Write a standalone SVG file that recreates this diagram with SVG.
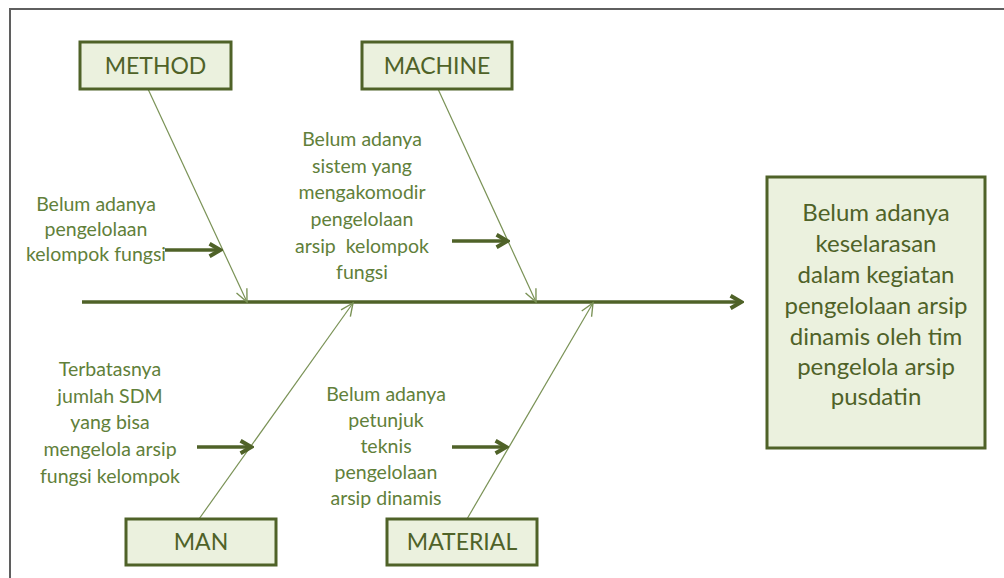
<svg xmlns="http://www.w3.org/2000/svg" width="1004" height="578" viewBox="0 0 1004 578">
<style>
.box{fill:#ebf1de;stroke:#4f6228;stroke-width:3}
.lbl{font-family:Lato,"Open Sans",sans-serif;font-size:23px;fill:#4f6228;text-anchor:middle}
.eff{font-family:Lato,"Open Sans",sans-serif;font-size:24px;fill:#4f6228;text-anchor:middle}
.cause{font-family:Lato,"Open Sans",sans-serif;font-size:19.5px;fill:#61803a;text-anchor:middle}
.bone{stroke:#7a9256;stroke-width:1.2;fill:none}
.arr{stroke:#4f6228;stroke-width:3.5;fill:none}
.frame{stroke:#5f5f5f;stroke-width:2;fill:none}
</style>
<defs>
<marker id="vthin" markerUnits="userSpaceOnUse" markerWidth="16" markerHeight="16" refX="12" refY="6" orient="auto" viewBox="0 0 14 12">
<path d="M1,1 L12,6 L1,11" fill="none" stroke="#7a9256" stroke-width="1.2"/>
</marker>
<marker id="vthick" markerUnits="userSpaceOnUse" markerWidth="16" markerHeight="16" refX="12" refY="7" orient="auto" viewBox="0 0 14 14">
<path d="M2,1.5 L11.5,7 L2,12.5" fill="none" stroke="#4f6228" stroke-width="3.5" stroke-linejoin="miter"/>
</marker>
</defs>
<rect width="1004" height="578" fill="#ffffff"/>
<path class="frame" d="M10,578 L10,9 L1004,9"/>
<g id="connectors">
<line class="arr" x1="82" y1="302" x2="742" y2="302" marker-end="url(#vthick)"/>
<line class="bone" x1="148" y1="89" x2="247" y2="302" marker-end="url(#vthin)"/>
<line class="bone" x1="438" y1="89" x2="536" y2="302" marker-end="url(#vthin)"/>
<line class="bone" x1="199" y1="519" x2="353" y2="303" marker-end="url(#vthin)"/>
<line class="bone" x1="467" y1="519" x2="593" y2="303" marker-end="url(#vthin)"/>
<line class="arr" x1="165" y1="250" x2="221" y2="250" marker-end="url(#vthick)"/>
<line class="arr" x1="452" y1="241" x2="508" y2="241" marker-end="url(#vthick)"/>
<line class="arr" x1="197" y1="447" x2="252" y2="447" marker-end="url(#vthick)"/>
<line class="arr" x1="452" y1="447" x2="507" y2="447" marker-end="url(#vthick)"/>
</g>
<g id="method">
<rect class="box" x="80" y="42" width="151" height="47"/>
<text class="lbl" x="155.5" y="74">METHOD</text>
</g>
<g id="machine">
<rect class="box" x="362" y="42" width="150" height="47"/>
<text class="lbl" x="437" y="74">MACHINE</text>
</g>
<g id="man">
<rect class="box" x="126" y="519" width="150" height="46"/>
<text class="lbl" x="201" y="550">MAN</text>
</g>
<g id="material">
<rect class="box" x="387" y="519" width="150" height="46"/>
<text class="lbl" x="462" y="550">MATERIAL</text>
</g>
<g id="effect">
<rect class="box" x="767" y="177" width="218" height="271"/>
<text class="eff" x="876" y="221">Belum adanya</text>
<text class="eff" x="876" y="252">keselarasan</text>
<text class="eff" x="876" y="283">dalam kegiatan</text>
<text class="eff" x="876" y="314">pengelolaan arsip</text>
<text class="eff" x="876" y="345">dinamis oleh tim</text>
<text class="eff" x="876" y="375">pengelola arsip</text>
<text class="eff" x="876" y="405">pusdatin</text>
</g>
<g id="cause-method">
<text class="cause" x="96" y="211">Belum adanya</text>
<text class="cause" x="96" y="236">pengelolaan</text>
<text class="cause" x="96" y="261">kelompok fungsi</text>
</g>
<g id="cause-machine">
<text class="cause" x="362" y="146">Belum adanya</text>
<text class="cause" x="362" y="173">sistem yang</text>
<text class="cause" x="362" y="199">mengakomodir</text>
<text class="cause" x="362" y="226">pengelolaan</text>
<text class="cause" x="362" y="253" xml:space="preserve">arsip  kelompok</text>
<text class="cause" x="362" y="279">fungsi</text>
</g>
<g id="cause-man">
<text class="cause" x="110" y="376">Terbatasnya</text>
<text class="cause" x="110" y="403">jumlah SDM</text>
<text class="cause" x="110" y="429">yang bisa</text>
<text class="cause" x="110" y="456">mengelola arsip</text>
<text class="cause" x="110" y="483">fungsi kelompok</text>
</g>
<g id="cause-material">
<text class="cause" x="386" y="401">Belum adanya</text>
<text class="cause" x="386" y="427">petunjuk</text>
<text class="cause" x="386" y="453">teknis</text>
<text class="cause" x="386" y="479">pengelolaan</text>
<text class="cause" x="386" y="505">arsip dinamis</text>
</g>
</svg>
